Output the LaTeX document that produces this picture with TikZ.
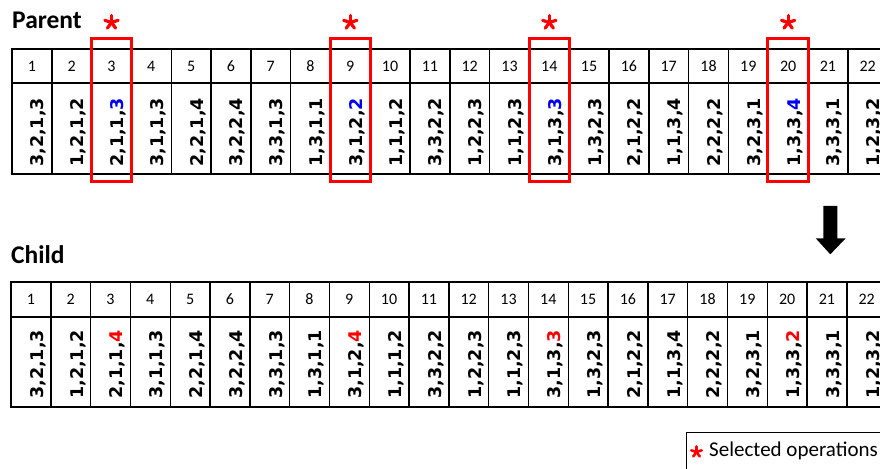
\documentclass[tikz,border=0pt]{standalone}
\usepackage{fontspec}
\newfontfamily\carlito{Carlito}
\newfontfamily\dejavu{DejaVu Sans}
\definecolor{selred}{RGB}{255,0,0}
\definecolor{selblue}{RGB}{0,0,240}
\begin{document}
\begin{tikzpicture}[x=1bp,y=-1bp,
  grid/.style={line width=1.4bp,black},
  selbox/.style={line width=3bp,selred},
  hdr/.style={inner sep=0pt,anchor=base,font=\carlito\fontsize{16bp}{18bp}\selectfont},
  val/.style={inner sep=0pt,rotate=90,anchor=base west,font=\dejavu\bfseries\fontsize{17.5bp}{20bp}\selectfont},
  title/.style={inner sep=0pt,anchor=base west,font=\carlito\bfseries\fontsize{25.5bp}{28bp}\selectfont},
  star/.style={line width=3.2bp,selred,line cap=round}]
\useasboundingbox (0,0) rectangle (880,469);
\clip (0,0) rectangle (880,469);
\fill[white] (0,0) rectangle (880,469);
\def\cw{39.8}
% titles
\node[title] (tparent) at (12,28.3) {Parent};
\node[title] (tchild) at (11,263.3) {Child};
% parent table
\draw[grid] (12,49) rectangle (12+22*\cw,174);
\draw[grid] (12,83) -- (12+22*\cw,83);
\foreach \i in {1,...,21}{\draw[grid] (12+\i*\cw,49) -- (12+\i*\cw,174);}
\foreach \i/\p/\l/\c in {1/{3,2,1}/3/black,2/{1,2,1}/2/black,3/{2,1,1}/3/selblue,4/{3,1,1}/3/black,5/{2,2,1}/4/black,6/{3,2,2}/4/black,7/{3,3,1}/3/black,8/{1,3,1}/1/black,9/{3,1,2}/2/selblue,10/{1,1,1}/2/black,11/{3,3,2}/2/black,12/{1,2,2}/3/black,13/{1,1,2}/3/black,14/{3,1,3}/3/selblue,15/{1,3,2}/3/black,16/{2,1,2}/2/black,17/{1,1,3}/4/black,18/{2,2,2}/2/black,19/{3,2,3}/1/black,20/{1,3,3}/4/selblue,21/{3,3,3}/1/black,22/{1,2,3}/2/black}{
  \node[hdr] (ph\i) at (12+\i*\cw-0.5*\cw,71.5) {\i};
  \node[val] (pv\i) at (12+\i*\cw-8,167) {\p,\textcolor{\c}{\l}};
}
% child table
\draw[grid] (11,282) rectangle (11+22*\cw,407);
\draw[grid] (11,317) -- (11+22*\cw,317);
\foreach \i in {1,...,21}{\draw[grid] (11+\i*\cw,282) -- (11+\i*\cw,407);}
\foreach \i/\p/\l/\c in {1/{3,2,1}/3/black,2/{1,2,1}/2/black,3/{2,1,1}/4/selred,4/{3,1,1}/3/black,5/{2,2,1}/4/black,6/{3,2,2}/4/black,7/{3,3,1}/3/black,8/{1,3,1}/1/black,9/{3,1,2}/4/selred,10/{1,1,1}/2/black,11/{3,3,2}/2/black,12/{1,2,2}/3/black,13/{1,1,2}/3/black,14/{3,1,3}/3/selred,15/{1,3,2}/3/black,16/{2,1,2}/2/black,17/{1,1,3}/4/black,18/{2,2,2}/2/black,19/{3,2,3}/1/black,20/{1,3,3}/2/selred,21/{3,3,3}/1/black,22/{1,2,3}/2/black}{
  \node[hdr] (ch\i) at (11+\i*\cw-0.5*\cw,304.5) {\i};
  \node[val] (cv\i) at (11+\i*\cw-7.5,399) {\p,\textcolor{\c}{\l}};
}
% selection boxes and asterisks
\foreach \j in {3,9,14,20}{
  \draw[selbox] (12+\j*\cw-\cw-0.4,38.2) rectangle (12+\j*\cw+0.4,181.5);
  \coordinate (s\j) at (12+\j*\cw-0.5*\cw,22.5);
  \foreach \a in {90,162,234,306,18}{\draw[star] (s\j) -- ++(\a:-7);}
}
% arrow
\fill[black] (823.3,206) -- (837.3,206) -- (837.3,238.3) -- (845.7,238.3) -- (830.3,254.3) -- (815.7,238.3) -- (823.3,238.3) -- cycle;
% legend
\draw[line width=1bp] (686,432.7) rectangle (900,480);
\coordinate (ls) at (696.5,452);
\foreach \a in {90,162,234,306,18}{\draw[star,line width=2.6bp] (ls) -- ++(\a:-5.5);}
\node[inner sep=0pt,anchor=base west,font=\carlito\fontsize{21bp}{24bp}\selectfont] (leg) at (709,456.7) {Selected operations};
\end{tikzpicture}
\end{document}
